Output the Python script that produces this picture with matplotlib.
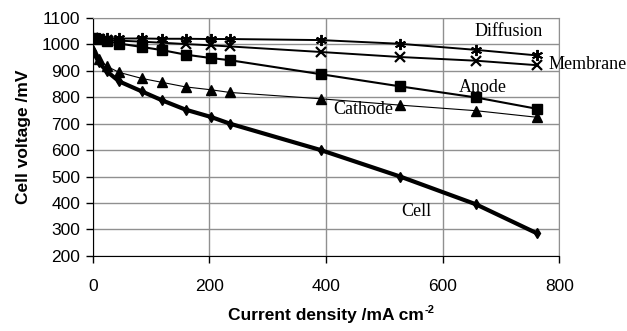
import matplotlib
matplotlib.use("Agg")
from matplotlib import pyplot as plt

# current density [mA cm-2] and voltages [mV]
current = [0, 10, 24, 45, 84, 119, 159, 203, 235, 391, 527, 657, 762]
cell = [975, 933, 898, 860, 822, 788, 753, 725, 700, 600, 500, 395, 285]
cathode = [980, 945, 917, 894, 871, 856, 839, 828, 818, 794, 770, 749, 724]
anode = [1024, 1020, 1012, 1003, 990, 978, 961, 948, 940, 887, 841, 799, 756]
membrane = [1022, 1020, 1017, 1014, 1010, 1006, 1001, 996, 992, 971, 952, 938, 921]
diffusion = [1023, 1023, 1023, 1022, 1022, 1021, 1021, 1020, 1020, 1016, 1002, 979, 958]

series_labels = ["Diffusion", "Membrane", "Anode", "Cathode", "Cell"]
label_x = [714, 782, 669, 463, 554]
label_y = [1048, 922, 836, 752, 367]

fig = plt.figure(figsize=(6.27, 3.31), dpi=100)
ax = fig.add_axes([0.148, 0.227, 0.744, 0.719])

ax.plot(current, diffusion, color="black", lw=1.4, marker=(6, 2, 0), ms=8, mew=1.4)
ax.plot(current, membrane, color="black", lw=1.4, marker="x", ms=7, mew=1.6)
ax.plot(current, anode, color="black", lw=1.5, marker="s", ms=7)
ax.plot(current, cathode, color="black", lw=0.8, marker="^", ms=7)
ax.plot(current, cell, color="black", lw=3, marker="d", ms=5.5)

for name, tx, ty in zip(series_labels, label_x, label_y):
    ha = "left" if name == "Membrane" else "center"
    ax.text(tx, ty, name, ha=ha, va="center", fontsize=13,
            family="Liberation Serif", clip_on=False)

ax.set_xlim(0, 800)
ax.set_ylim(200, 1100)
ax.set_xticks(range(0, 801, 200))
ax.set_yticks(range(200, 1101, 100))
ax.grid(True, color="#909090", lw=1)
ax.set_axisbelow(True)
for side in ["top", "right"]:
    ax.spines[side].set_color("#909090")
ax.tick_params(labelsize=12.5, length=5, width=1, pad=4)
ax.tick_params(axis="x", pad=12)
for lab in ax.get_xticklabels() + ax.get_yticklabels():
    lab.set_family("Liberation Sans")

ax.set_xlabel("Current density /mA cm", fontsize=12.5, fontweight="bold",
              family="Liberation Sans", labelpad=10)
ax.set_ylabel("Cell voltage /mV", fontsize=12.5, fontweight="bold",
              family="Liberation Sans", labelpad=8)

# superscript "-2" drawn as plain text just after the x label
fig.canvas.draw()
bb = ax.xaxis.label.get_window_extent()
fig.text((bb.x1 + 1) / fig.bbox.width, (bb.y1 - 2) / fig.bbox.height, "-2",
         fontsize=8, fontweight="bold", family="Liberation Sans", va="center")

fig.savefig("out.png", dpi=100)
